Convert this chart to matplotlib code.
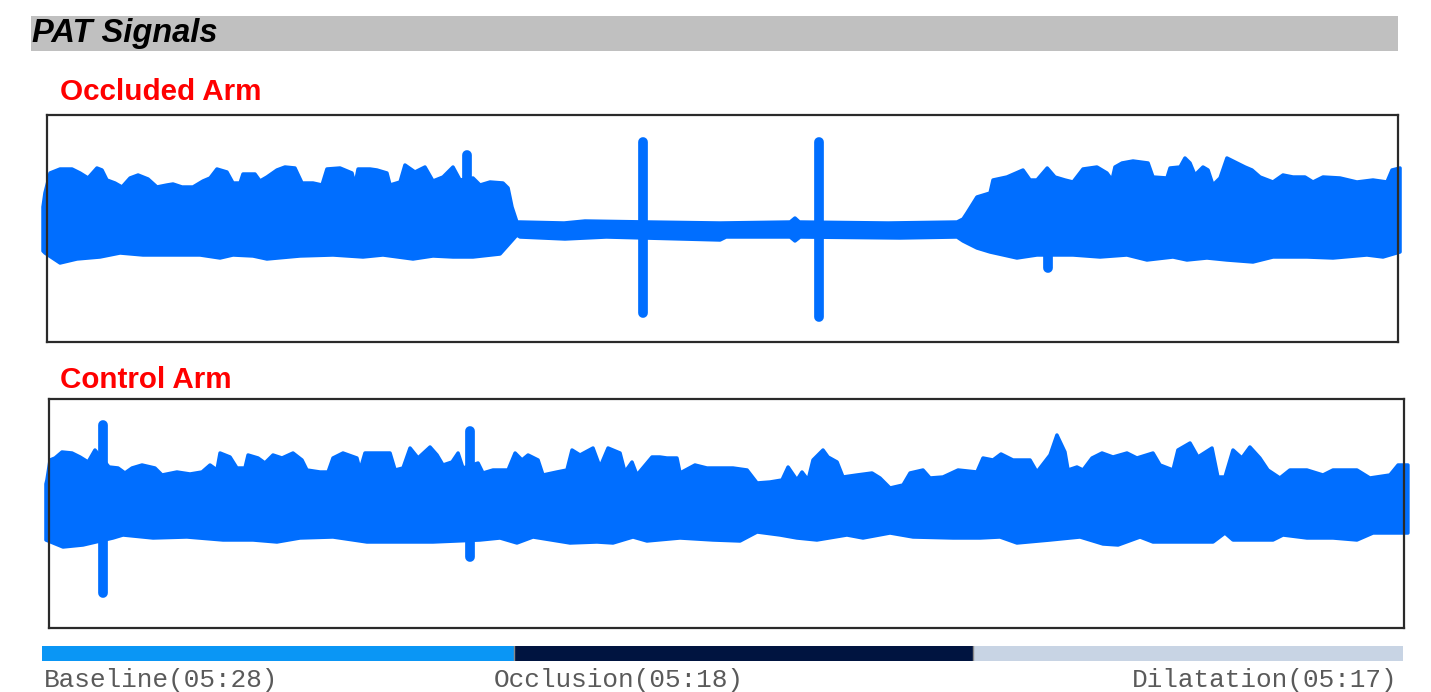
import matplotlib
matplotlib.use("Agg")
from matplotlib import pyplot as plt
from matplotlib.patches import Rectangle

# figure size in pixels (dpi 100)
W, H = 1431, 692
BLUE = "#006eff"

# occluded arm envelope: time (s) / amplitude (a.u.)
occ_top_t = [0.0, 1.4, 5.0, 12.1, 20.6, 26.3, 32.0, 38.3, 41.9, 45.4, 51.1, 56.1, 61.8, 67.5,
             74.6, 80.9, 88.0, 92.3, 98.7, 106.5, 113.6, 118.6, 123.5, 130.6, 134.9, 139.9,
             142.0, 150.5, 154.1, 159.0, 166.1, 171.8, 178.9, 183.9, 191.7, 198.1, 201.6,
             210.9, 219.4, 221.5, 223.7, 232.2, 237.1, 244.2, 246.4, 253.5, 257.0, 264.1,
             271.2, 276.9, 284.0, 291.1, 296.1, 305.3, 310.3, 317.4, 326.6, 330.2, 333.0,
             336.5, 338.7, 370.0, 384.8, 430.0, 480.7, 530.5, 533.9, 537.0, 600.0, 649.0,
             653.2, 656.0, 663.1, 672.4, 674.5, 684.4, 695.8, 700.8, 705.7, 713.0, 718.5,
             725.6, 731.3, 738.4, 748.3, 755.4, 759.0, 761.1, 766.1, 773.9, 784.6, 788.1,
             798.0, 800.2, 807.3, 810.8, 814.4, 817.9, 823.6, 827.2, 830.7, 835.7, 840.6,
             847.7, 853.4, 858.4, 864.1, 873.3, 880.4, 887.5, 896.0, 901.7, 908.8, 920.9,
             932.9, 944.3, 954.2, 957.8, 963.5]
occ_top_y = [22, 36, 56, 60, 60, 56, 51, 61, 59, 49, 46, 42, 51, 54,
             50, 42, 44, 45, 42, 42, 48, 51, 60, 57, 46, 46,
             55, 55, 48, 52, 59, 62, 61, 46, 46, 44, 60,
             61, 56, 44, 60, 60, 59, 56, 44, 47, 64, 57,
             62, 48, 52, 62, 49, 51, 44, 47, 46, 41, 22,
             7, 7, 6, 8, 7, 6, 7, 11, 7, 6, 7,
             10, 16, 32, 36, 49, 52, 59, 49, 49, 61, 52,
             49, 47, 60, 62, 56, 49, 62, 66, 68, 66, 52,
             51, 61, 62, 71, 66, 54, 62, 59, 44, 51, 71,
             66, 62, 59, 52, 47, 54, 52, 52, 47, 52, 51,
             47, 49, 47, 59, 61]
occ_bot_t = [0.0, 1.4, 12.1, 24.1, 40.5, 54.7, 71.0, 88.0, 111.5, 125.7, 134.9, 149.1, 159.0,
             182.5, 205.9, 227.2, 241.4, 262.7, 276.9, 291.1, 305.3, 324.5, 330.2, 336.5,
             338.7, 370.6, 400.0, 480.7, 485.0, 530.5, 533.9, 537.5, 608.5, 649.0, 653.2,
             656.0, 663.1, 672.4, 691.5, 705.7, 731.3, 750.5, 769.6, 783.8, 802.3, 812.2,
             826.4, 840.6, 859.1, 873.3, 897.4, 915.9, 940.0, 951.4, 963.5]
occ_bot_y = [-22, -24, -34, -30, -28, -24, -26, -26, -26, -29, -26, -27, -30,
             -27, -26, -28, -26, -30, -27, -28, -28, -25, -16, -6,
             -8, -10, -8, -11, -8, -8, -12, -8, -9, -8, -12,
             -14, -19, -23, -29, -26, -26, -28, -26, -31, -28, -31,
             -29, -31, -33, -28, -28, -29, -26, -28, -23]
occ_spike_t = [301.0, 426.0, 551.0, 713.6]
occ_spike_lo = [0, -84, -88, -39]
occ_spike_hi = [74, 87, 87, -20]

# control arm envelope
ctl_top_t = [2.1, 2.8, 5.0, 8.5, 13.5, 20.6, 26.3, 32.0, 36.9, 46.9, 53.3, 58.2, 63.2, 70.3,
             79.5, 84.5, 95.1, 104.4, 112.9, 118.6, 123.5, 125.7, 132.8, 137.7, 143.4, 145.6,
             152.7, 157.6, 163.3, 169.7, 177.5, 183.9, 187.4, 196.7, 202.4, 205.9, 213.0,
             222.9, 225.1, 228.6, 246.4, 250.0, 255.6, 260.6, 266.3, 274.8, 279.8, 284.0,
             290.4, 294.7, 298.2, 308.9, 312.4, 319.5, 330.2, 335.2, 340.1, 344.4, 351.5,
             355.0, 364.9, 372.0, 375.6, 381.3, 390.5, 395.5, 401.2, 409.7, 413.2, 418.2,
             421.7, 432.4, 438.0, 443.0, 450.1, 452.3, 462.9, 471.4, 480.7, 489.9, 499.9,
             507.0, 516.2, 524.7, 529.0, 535.3, 538.9, 543.2, 546.7, 553.8, 557.4, 563.8,
             568.0, 577.9, 588.6, 594.3, 601.4, 610.6, 615.6, 624.8, 629.8, 639.0, 649.7,
             663.1, 667.4, 674.5, 680.2, 688.7, 700.8, 705.7, 715.0, 719.9, 725.6, 727.8,
             734.1, 738.4, 744.8, 751.9, 759.7, 769.6, 776.7, 788.1, 793.1, 802.3, 805.8,
             814.4, 820.0, 830.0, 834.2, 839.2, 844.9, 851.2, 856.9, 864.0, 869.7, 878.2,
             885.3, 897.4, 908.8, 915.9, 932.9, 942.1, 956.3, 962.1, 969.1]
ctl_top_y = [30, 34, 54, 56, 62, 61, 57, 52, 64, 47, 46, 41, 46, 49,
             46, 39, 42, 40, 42, 49, 44, 61, 57, 46, 46, 59,
             56, 51, 59, 56, 61, 54, 44, 42, 42, 56, 61,
             56, 44, 61, 61, 44, 46, 66, 56, 67, 59, 49,
             52, 61, 46, 51, 41, 44, 44, 61, 54, 59, 54,
             39, 42, 44, 64, 59, 66, 47, 66, 61, 42, 52,
             39, 57, 57, 56, 56, 41, 49, 46, 46, 46, 44,
             31, 32, 34, 47, 34, 42, 34, 54, 64, 57, 52,
             37, 39, 41, 36, 26, 29, 41, 44, 36, 37, 44,
             42, 56, 54, 60, 54, 54, 42, 59, 79, 62, 44,
             47, 44, 56, 61, 57, 61, 56, 61, 49, 44, 64,
             71, 57, 66, 37, 37, 64, 56, 67, 56, 44, 36,
             44, 44, 39, 44, 44, 36, 39, 49, 49]
ctl_bot_t = [2.1, 14.2, 28.4, 49.7, 56.8, 78.1, 102.2, 127.8, 149.1, 166.1, 182.5, 205.9,
             230.0, 262.7, 276.9, 310.3, 324.5, 336.5, 347.9, 374.2, 393.3, 404.7, 418.9,
             428.8, 452.3, 475.7, 494.9, 507.0, 523.3, 535.3, 549.5, 570.8, 582.2, 601.4,
             617.7, 646.1, 665.3, 679.5, 691.5, 715.0, 736.3, 752.6, 763.3, 778.9, 788.1,
             816.5, 830.7, 839.2, 844.9, 873.3, 880.4, 897.4, 915.9, 932.9, 944.3, 969.1]
ctl_bot_y = [-26, -33, -31, -24, -21, -24, -23, -26, -26, -28, -24, -23,
             -28, -28, -28, -26, -24, -29, -23, -29, -28, -29, -23,
             -27, -24, -26, -27, -18, -21, -24, -26, -21, -24, -19,
             -23, -24, -24, -23, -29, -26, -23, -30, -31, -23, -28,
             -28, -28, -19, -26, -26, -21, -24, -24, -26, -19, -19]
ctl_spike_t = [42.6, 303.2]
ctl_spike_lo = [-79, -43]
ctl_spike_hi = [89, 83]

# test phases
phase_names = ["Baseline", "Occlusion", "Dilatation"]
phase_times = ["05:28", "05:18", "05:17"]
phase_edges = [0, 335, 661, 966]
phase_colors = ["#0a96f5", "#001440", "#c8d4e4"]


def px_axes(fig, x0, y0, x1, y1):
    # place an axes using pixel box of the figure (top-left origin)
    return fig.add_axes([x0 / W, 1 - y1 / H, (x1 - x0) / W, (y1 - y0) / H])


def draw_signal(ax, top_t, top_y, bot_t, bot_y, spike_t, spike_lo, spike_hi):
    xs = list(top_t) + list(bot_t)[::-1]
    ys = list(top_y) + list(bot_y)[::-1]
    ax.fill(xs, ys, color=BLUE, lw=2.5, joinstyle="round", clip_on=False, zorder=3)
    ax.vlines(spike_t, spike_lo, spike_hi, color=BLUE, lw=7,
              capstyle="round", clip_on=False, zorder=3)
    ax.set_xticks([])
    ax.set_yticks([])
    for sp in ax.spines.values():
        sp.set_color("#2a2a2a")
        sp.set_linewidth(1.6)
        sp.set_zorder(4)


fig = plt.figure(figsize=(W / 100, H / 100), dpi=100)

# header bar
fig.add_artist(Rectangle((31 / W, 1 - 51 / H), (1398 - 31) / W, 35 / H,
                         transform=fig.transFigure, color="#c0c0c0", lw=0))
fig.text(32 / W, 1 - 42 / H, "PAT Signals", fontsize=23.5, fontweight="bold",
         fontstyle="italic", family="Liberation Sans", va="baseline")

fig.text(60 / W, 1 - 100 / H, "Occluded Arm", color="red", fontsize=21.3,
         fontweight="bold", family="Liberation Sans", va="baseline")
fig.text(60 / W, 1 - 388 / H, "Control Arm", color="red", fontsize=21.3,
         fontweight="bold", family="Liberation Sans", va="baseline")

ax1 = px_axes(fig, 47, 115, 1398, 342)
draw_signal(ax1, occ_top_t, occ_top_y, occ_bot_t, occ_bot_y,
            occ_spike_t, occ_spike_lo, occ_spike_hi)
ax1.set_xlim(2.84, 962.05)
ax1.set_ylim(-113, 114)

ax2 = px_axes(fig, 49, 399, 1404, 628)
draw_signal(ax2, ctl_top_t, ctl_top_y, ctl_bot_t, ctl_bot_y,
            ctl_spike_t, ctl_spike_lo, ctl_spike_hi)
ax2.set_xlim(4.26, 966.31)
ax2.set_ylim(-114, 115)

# phase timeline
ax3 = px_axes(fig, 42, 646, 1403, 661)
for i in range(len(phase_names)):
    ax3.barh(0, phase_edges[i + 1] - phase_edges[i], left=phase_edges[i],
             height=1, color=phase_colors[i], lw=0)
for e in phase_edges[1:-1]:
    ax3.axvline(e, color="#8a8a8a", lw=1)
ax3.set_xlim(phase_edges[0], phase_edges[-1])
ax3.set_ylim(-0.5, 0.5)
ax3.axis("off")

mono = dict(fontsize=18.8, family="Liberation Mono", color="#5a5a5a", va="baseline")
fig.text(44 / W, 1 - 687 / H, f"{phase_names[0]}({phase_times[0]})", ha="left", **mono)
fig.text(494 / W, 1 - 687 / H, f"{phase_names[1]}({phase_times[1]})", ha="left", **mono)
fig.text(1398 / W, 1 - 687 / H, f"{phase_names[2]}({phase_times[2]})", ha="right", **mono)

fig.savefig("out.png", dpi=100)
